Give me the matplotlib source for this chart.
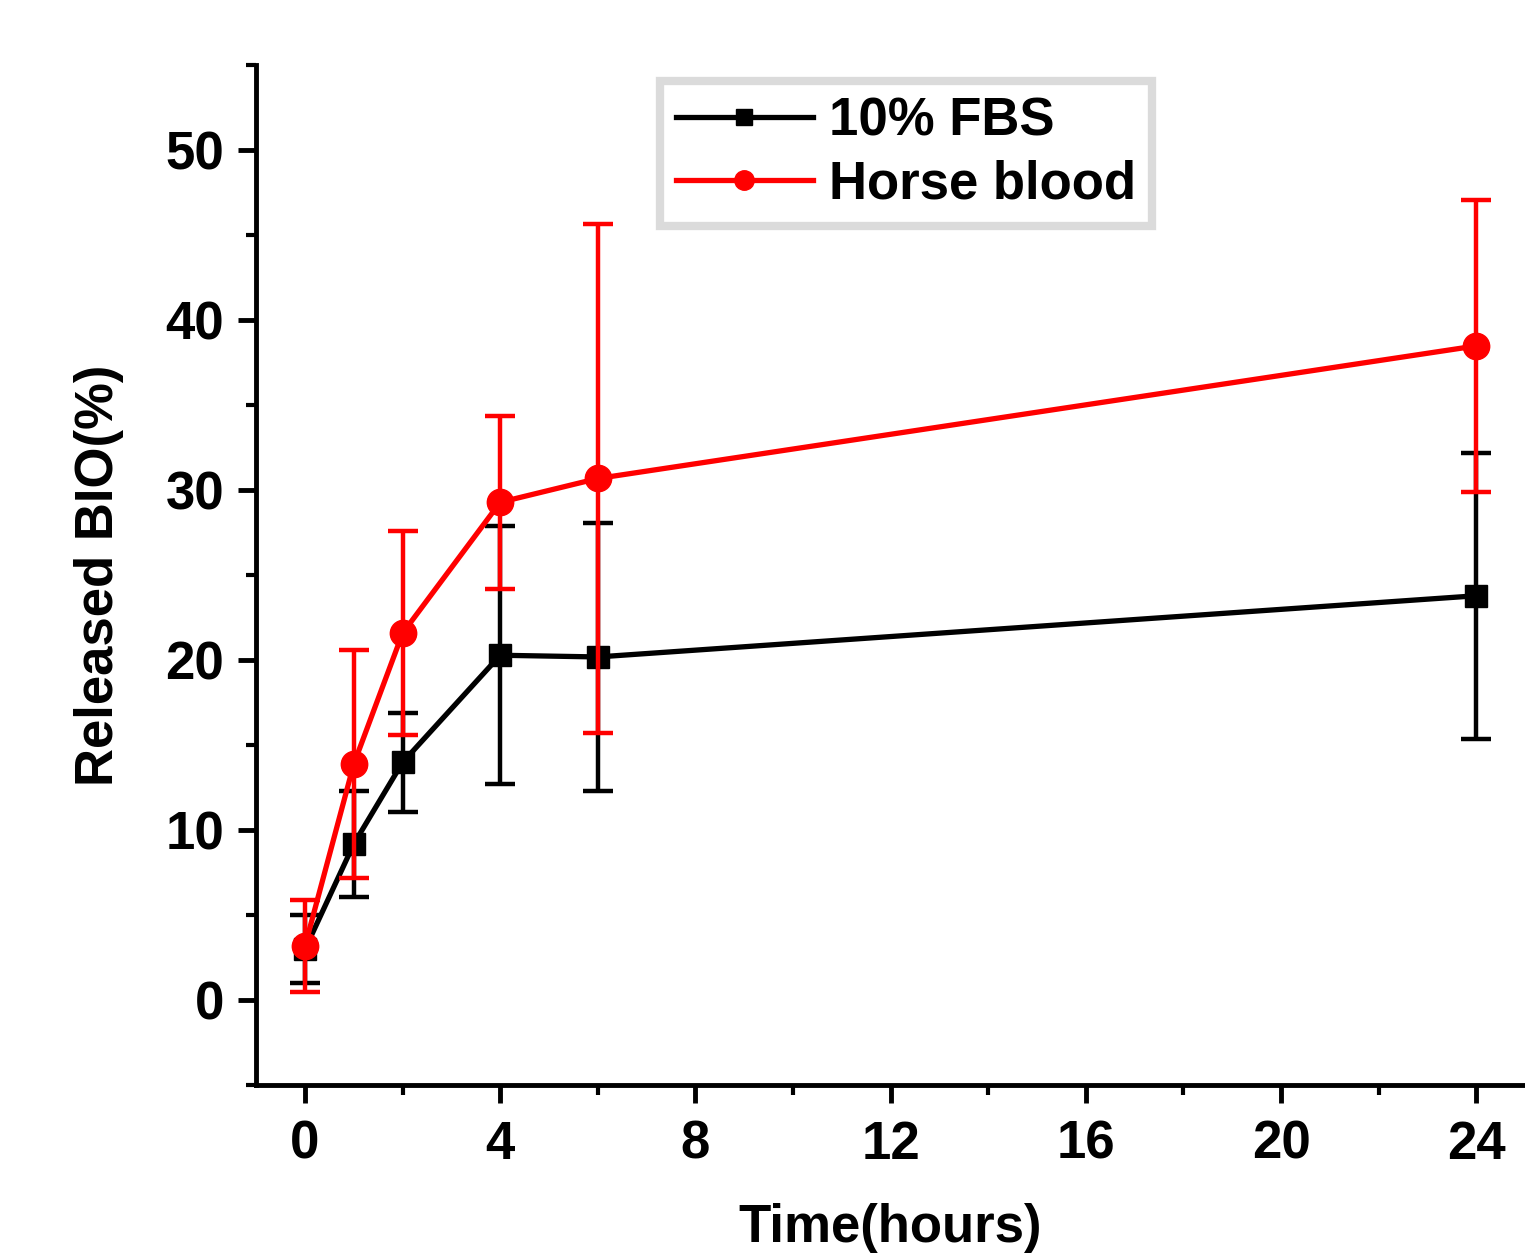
import numpy as np
import matplotlib.pyplot as plt
from matplotlib.ticker import MultipleLocator
from matplotlib.lines import Line2D

# time points (hours)
time_h = [0, 1, 2, 4, 6, 24]

# 10% FBS release (%) and error
fbs_mean = [3.0, 9.2, 14.0, 20.3, 20.2, 23.8]
fbs_err = [2.0, 3.1, 2.9, 7.6, 7.9, 8.4]

# horse blood release (%) and error
blood_mean = [3.2, 13.9, 21.6, 29.3, 30.7, 38.5]
blood_err = [2.7, 6.7, 6.0, 5.1, 15.0, 8.6]

plt.rcParams['font.family'] = ['Liberation Sans', 'DejaVu Sans']
plt.rcParams['font.weight'] = 'bold'

fig = plt.figure(figsize=(15.25, 12.59), dpi=100)
ax = fig.add_axes([0.168, 0.138, 0.832, 0.810])

ax.errorbar(time_h, blood_mean, yerr=blood_err, color='#ff0000', marker='o',
            markersize=19, linewidth=3.8, elinewidth=3.2, capsize=11, capthick=3.2,
            zorder=3)
ax.errorbar(time_h, fbs_mean, yerr=fbs_err, color='black', marker='s',
            markersize=16, linewidth=3.8, elinewidth=3.2, capsize=11, capthick=3.2,
            zorder=2)

ax.set_xlim(-1, 25)
ax.set_ylim(-5, 55)
ax.xaxis.set_major_locator(MultipleLocator(4))
ax.xaxis.set_minor_locator(MultipleLocator(2))
ax.yaxis.set_major_locator(MultipleLocator(10))
ax.yaxis.set_minor_locator(MultipleLocator(5))
ax.set_yticks(range(0, 51, 10))

ax.spines['top'].set_visible(False)
ax.spines['right'].set_visible(False)
ax.spines['left'].set_linewidth(3.5)
ax.spines['bottom'].set_linewidth(3.5)

ax.tick_params(which='major', direction='out', length=13, width=3.5,
               labelsize=38, pad=10)
ax.tick_params(axis='x', which='major', pad=12)
ax.tick_params(which='minor', direction='out', length=7, width=3.0)

ax.set_xlabel('Time(hours)', fontsize=38, fontweight='bold', labelpad=24)
ax.set_ylabel('Released BIO(%)', fontsize=38, fontweight='bold', labelpad=30)

handles = [
    Line2D([], [], color='black', marker='s', markersize=12, linewidth=3.8),
    Line2D([], [], color='#ff0000', marker='o', markersize=14, linewidth=3.8),
]
labels = ['10% FBS', 'Horse blood']
leg = ax.legend(handles, labels, loc='upper left',
                bbox_to_anchor=(0.318, 0.985), borderaxespad=0,
                fancybox=False, handlelength=2.6,
                handletextpad=0.3, labelspacing=0.25, borderpad=0.3,
                prop={'weight': 'bold', 'size': 38})
leg.get_frame().set_edgecolor('#d3d3d3')
leg.get_frame().set_linewidth(6)

fig.savefig('out.png', dpi=100)
